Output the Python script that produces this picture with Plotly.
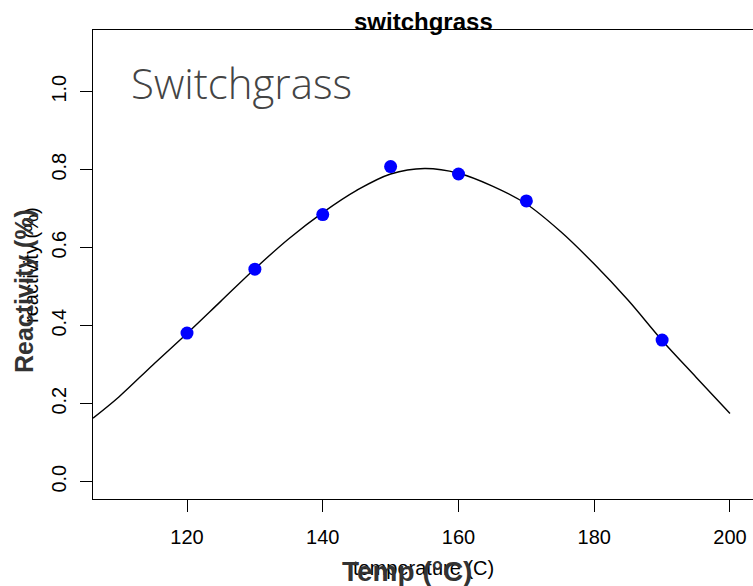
import plotly.graph_objects as go

# Measured reactivity of switchgrass at each pretreatment temperature
temp_obs = [120, 130, 140, 150, 160, 170, 190]
react_obs = [0.381, 0.545, 0.685, 0.808, 0.789, 0.720, 0.363]

# Fitted response curve
temp_fit = [106.15, 110, 115, 120, 125, 130, 135, 140, 145, 150, 155,
            160, 165, 170, 175, 180, 185, 190, 195, 200]
react_fit = [0.163, 0.218, 0.300, 0.380, 0.463, 0.546, 0.623, 0.690, 0.747,
             0.789, 0.803, 0.791, 0.758, 0.712, 0.642, 0.558, 0.465, 0.362,
             0.268, 0.175]

x_ticks = [120, 140, 160, 180, 200]
y_ticks = [0.0, 0.2, 0.4, 0.6, 0.8, 1.0]

W, H = 753, 586
L, T, B = 93, 30, 87
PW, PH = W - L, H - T - B


def px(x):
    return (x - L) / PW


def py(y):
    return (H - B - y) / PH


FONT = "Liberation Sans, Arial, Helvetica, sans-serif"

fig = go.Figure()
fig.add_trace(go.Scatter(
    x=temp_fit, y=react_fit, mode="lines",
    line=dict(color="black", width=1.4, shape="spline"),
    hoverinfo="skip", showlegend=False,
))
fig.add_trace(go.Scatter(
    x=temp_obs, y=react_obs, mode="markers",
    marker=dict(color="#0000ff", size=13, line=dict(width=0)),
    showlegend=False,
))

axis_common = dict(
    showgrid=False, zeroline=False, showline=True, linecolor="black",
    linewidth=1, ticks="outside", ticklen=12, tickwidth=1, tickcolor="black",
    tickfont=dict(family=FONT, size=20, color="black"),
)
fig.update_xaxes(range=[106.15, 203.39], tickvals=x_ticks, mirror=True,
                 ticklabelstandoff=8, **axis_common)
fig.update_yaxes(range=[-0.0444, 1.1582], tickvals=y_ticks, tickformat=".1f",
                 tickangle=-90, ticklabelstandoff=6, **axis_common)

annotations = [
    dict(text="<b>switchgrass</b>", x=px(424), y=py(21), xanchor="center",
         yanchor="middle", font=dict(family=FONT, size=24, color="black")),
    dict(text="Switchgrass", x=px(129), y=py(83), xanchor="left",
         yanchor="middle",
         font=dict(family="Open Sans, Lato, sans-serif", size=42,
                   color="#444444", weight=300)),
    dict(text="reactivity (%)", x=px(31), y=py(265), xanchor="center",
         yanchor="middle", textangle=-90,
         font=dict(family=FONT, size=20, color="black")),
    dict(text="<b>Reactivity (%)</b>", x=px(24), y=py(291), xanchor="center",
         yanchor="middle", textangle=-90,
         font=dict(family=FONT, size=25, color="#333333")),
    dict(text="temperature (C)", x=px(423), y=py(568), xanchor="center",
         yanchor="middle", font=dict(family=FONT, size=20, color="black")),
    dict(text="<b>Temp (°C)</b>", x=px(407), y=py(571), xanchor="center",
         yanchor="middle", font=dict(family=FONT, size=28, color="#333333")),
]
for a in annotations:
    a.update(xref="paper", yref="paper", showarrow=False)

fig.update_layout(
    width=W, height=H,
    margin=dict(l=L, r=0, t=T, b=B),
    plot_bgcolor="white", paper_bgcolor="white",
    annotations=annotations,
)

fig.write_html("out.html")
